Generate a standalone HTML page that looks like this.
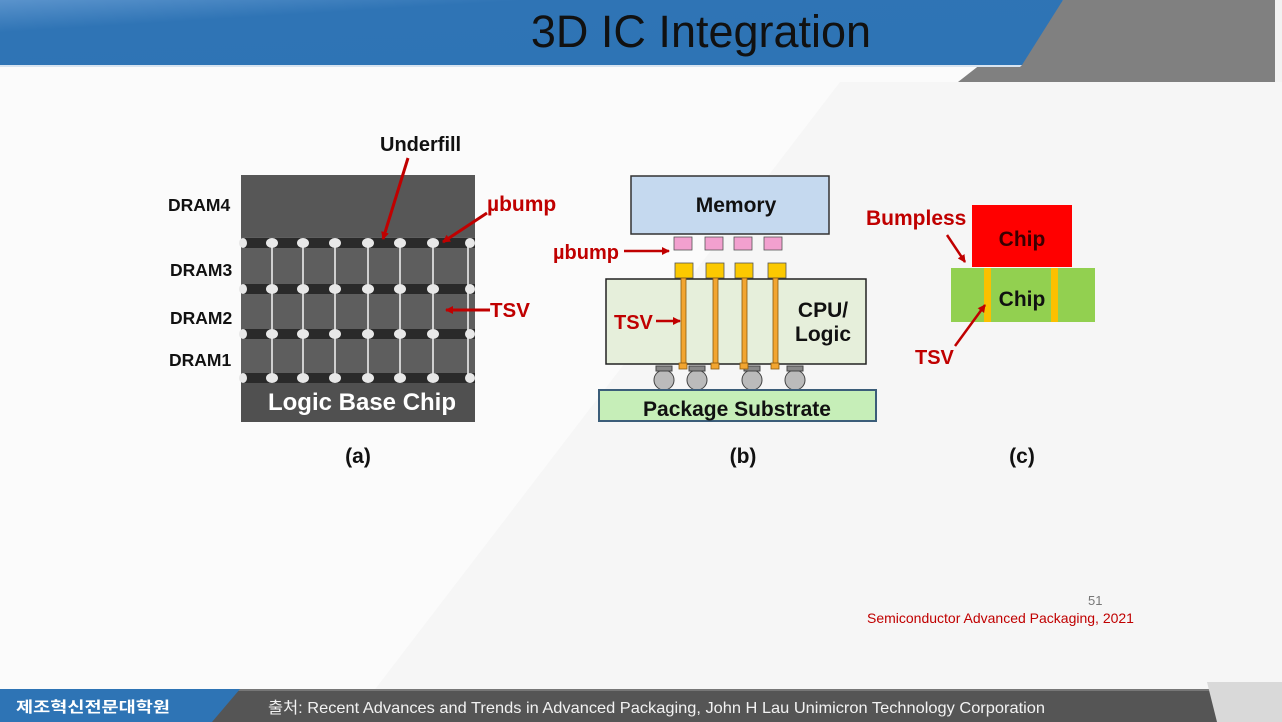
<!DOCTYPE html>
<html><head><meta charset="utf-8"><style>
body{margin:0;width:1282px;height:722px;overflow:hidden;background:#fbfbfb;font-family:"Liberation Sans","Noto Sans CJK KR",sans-serif}
svg{position:absolute;left:0;top:0}
</style></head><body>
<svg width="1282" height="722" viewBox="0 0 1282 722" xmlns="http://www.w3.org/2000/svg" font-family="Liberation Sans, Noto Sans CJK KR, sans-serif">
<defs>
<linearGradient id="bl" x1="0" y1="0" x2="1" y2="1"><stop offset="0" stop-color="#5a93cc"/><stop offset="0.25" stop-color="#2f74b5"/><stop offset="1" stop-color="#2e74b5"/></linearGradient>
<marker id="ar" markerWidth="8" markerHeight="8" refX="7" refY="4" orient="auto" markerUnits="userSpaceOnUse"><path d="M0,0 L8,4 L0,8 z" fill="#c00000"/></marker>
</defs>
<rect width="1282" height="722" fill="#fbfbfb"/>
<polygon points="0,722 350,722 840,82 960,82 1282,82 1282,722" fill="#f6f6f6"/>
<polygon points="1063,0 1282,0 1282,82 958,82" fill="#808080"/>
<rect x="1275" y="0" width="7" height="82" fill="#f2f2f2"/>
<polygon points="0,0 1063,0 1022,65 0,65" fill="url(#bl)"/>
<polygon points="0,65 1022,65 1020,67 0,67" fill="#d8e4f0"/>
<text x="701" y="47" text-anchor="middle" font-size="45" fill="#111">3D IC Integration</text>

<!-- (a) -->
<rect x="241" y="175" width="234" height="247" fill="#5e5e5e"/>
<rect x="241" y="175" width="234" height="62" fill="#575757"/>
<g fill="#2a2a2a">
<rect x="241" y="238" width="234" height="10"/><rect x="241" y="284" width="234" height="10"/>
<rect x="241" y="329" width="234" height="10"/><rect x="241" y="373" width="234" height="10"/>
</g>
<rect x="241" y="383" width="234" height="39" fill="#505050"/>
<g fill="#cfcfcf">
<rect x="271" y="245" width="2" height="130"/><rect x="302" y="245" width="2" height="130"/>
<rect x="334" y="245" width="2" height="130"/><rect x="367" y="245" width="2" height="130"/>
<rect x="399" y="245" width="2" height="130"/><rect x="432" y="245" width="2" height="130"/>
<rect x="467" y="245" width="2" height="130"/>
</g>
<g fill="#e8e8e8">
<g id="row"><ellipse cx="243" cy="243" rx="4" ry="5"/><ellipse cx="272" cy="243" rx="6" ry="5"/><ellipse cx="303" cy="243" rx="6" ry="5"/><ellipse cx="335" cy="243" rx="6" ry="5"/><ellipse cx="368" cy="243" rx="6" ry="5"/><ellipse cx="400" cy="243" rx="6" ry="5"/><ellipse cx="433" cy="243" rx="6" ry="5"/><ellipse cx="470" cy="243" rx="5" ry="5"/></g>
<use href="#row" y="46"/><use href="#row" y="91"/><use href="#row" y="135"/>
</g>
<text x="362" y="410" text-anchor="middle" font-size="24" font-weight="bold" fill="#fff">Logic Base Chip</text>
<g font-size="17.5" font-weight="bold" fill="#111">
<text x="168" y="211">DRAM4</text><text x="170" y="276">DRAM3</text><text x="170" y="324">DRAM2</text><text x="169" y="366">DRAM1</text>
</g>
<text x="380" y="151" font-size="20" font-weight="bold" fill="#111">Underfill</text>
<text x="487" y="211" font-size="21" font-weight="bold" fill="#c00000">µbump</text>
<text x="490" y="317" font-size="20.5" font-weight="bold" fill="#c00000">TSV</text>
<g stroke="#c00000" stroke-width="3" fill="none" marker-end="url(#ar)">
<line x1="408" y1="158" x2="383" y2="239"/><line x1="487" y1="213" x2="443" y2="242"/><line x1="490" y1="310" x2="446" y2="310"/>
</g>

<!-- (b) -->
<rect x="631" y="176" width="198" height="58" fill="#c5d9ef" stroke="#333" stroke-width="1.5"/>
<text x="736" y="212" text-anchor="middle" font-size="21" font-weight="bold" fill="#111">Memory</text>
<g fill="#f2a0cf" stroke="#555" stroke-width="0.8">
<rect x="674" y="237" width="18" height="13"/><rect x="705" y="237" width="18" height="13"/><rect x="734" y="237" width="18" height="13"/><rect x="764" y="237" width="18" height="13"/>
</g>
<g fill="#fbc900" stroke="#555" stroke-width="0.8">
<rect x="675" y="263" width="18" height="15"/><rect x="706" y="263" width="18" height="15"/><rect x="735" y="263" width="18" height="15"/><rect x="768" y="263" width="18" height="15"/>
</g>
<rect x="606" y="279" width="260" height="85" fill="#e6efdb" stroke="#222" stroke-width="1.5"/>
<g fill="#bbb" stroke="#444" stroke-width="1">
<circle cx="664" cy="380" r="10"/><circle cx="697" cy="380" r="10"/><circle cx="752" cy="380" r="10"/><circle cx="795" cy="380" r="10"/>
<rect x="656" y="366" width="16" height="5" fill="#888"/><rect x="689" y="366" width="16" height="5" fill="#888"/><rect x="744" y="366" width="16" height="5" fill="#888"/><rect x="787" y="366" width="16" height="5" fill="#888"/>
</g>
<g fill="#f2a530" stroke="#8a5a10" stroke-width="0.8">
<rect x="681" y="278" width="5" height="86"/><rect x="713" y="278" width="5" height="86"/><rect x="742" y="278" width="5" height="86"/><rect x="773" y="278" width="5" height="86"/>
<rect x="679" y="363" width="8" height="6"/><rect x="711" y="363" width="8" height="6"/><rect x="740" y="363" width="8" height="6"/><rect x="771" y="363" width="8" height="6"/>
</g>
<text x="823" y="317" text-anchor="middle" font-size="21" font-weight="bold" fill="#111">CPU/</text>
<text x="823" y="341" text-anchor="middle" font-size="21" font-weight="bold" fill="#111">Logic</text>
<rect x="599" y="390" width="277" height="31" fill="#c6eeb8" stroke="#3b5d79" stroke-width="2"/>
<text x="737" y="416" text-anchor="middle" font-size="21" font-weight="bold" fill="#111">Package Substrate</text>
<text x="553" y="259" font-size="20" font-weight="bold" fill="#c00000">µbump</text>
<text x="614" y="329" font-size="20" font-weight="bold" fill="#c00000">TSV</text>
<g stroke="#c00000" stroke-width="2.5" fill="none" marker-end="url(#ar)">
<line x1="624" y1="251" x2="669" y2="251"/><line x1="656" y1="321" x2="680" y2="321"/>
</g>

<!-- (c) -->
<rect x="972" y="205" width="100" height="62" fill="#ff0000"/>
<text x="1022" y="246" text-anchor="middle" font-size="21" font-weight="bold" fill="#3a0000">Chip</text>
<rect x="951" y="268" width="144" height="54" fill="#92d050"/>
<rect x="984" y="268" width="7" height="54" fill="#fbc000"/><rect x="1051" y="268" width="7" height="54" fill="#fbc000"/>
<text x="1022" y="306" text-anchor="middle" font-size="21" font-weight="bold" fill="#111">Chip</text>
<text x="866" y="225" font-size="21" font-weight="bold" fill="#c00000">Bumpless</text>
<text x="915" y="364" font-size="20" font-weight="bold" fill="#c00000">TSV</text>
<g stroke="#c00000" stroke-width="2.5" fill="none" marker-end="url(#ar)">
<line x1="947" y1="235" x2="965" y2="262"/><line x1="955" y1="346" x2="985" y2="305"/>
</g>

<g font-size="21" font-weight="bold" fill="#111" text-anchor="middle">
<text x="358" y="463">(a)</text><text x="743" y="463">(b)</text><text x="1022" y="463">(c)</text>
</g>
<text x="1088" y="605" font-size="13" fill="#777">51</text>
<text x="867" y="623" font-size="14" fill="#c00000">Semiconductor Advanced Packaging, 2021</text>

<!-- footer -->
<rect x="0" y="689" width="1282" height="33" fill="#555"/>
<rect x="0" y="689" width="1282" height="2" fill="#777"/>
<polygon points="0,689 240,689 212,722 0,722" fill="#2e74b5"/>
<polygon points="1207,682 1282,682 1282,722 1217,722" fill="#d9d9d9"/>
<text x="16" y="712" font-size="15" font-weight="bold" fill="#fff" textLength="154" lengthAdjust="spacingAndGlyphs">제조혁신전문대학원</text>
<text x="268" y="713" font-size="16" fill="#f2f2f2" textLength="777" lengthAdjust="spacingAndGlyphs">출처: Recent Advances and Trends in Advanced Packaging, John H Lau Unimicron Technology Corporation</text>
</svg>
</body></html>
